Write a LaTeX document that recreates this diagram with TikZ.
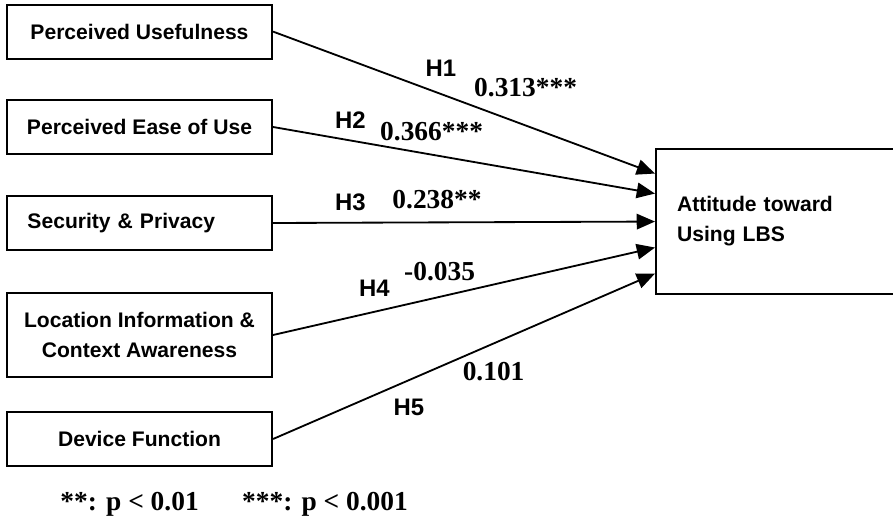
\documentclass[tikz,border=0pt]{standalone}
\usepackage{fontspec}
\setmainfont{Liberation Serif}
\setsansfont{Liberation Sans}
\usetikzlibrary{arrows.meta,positioning}
\tikzset{
  box/.style={draw=black,fill=white,line width=1.5pt,minimum width=6.625cm,minimum height=1.35cm,inner sep=0pt,align=center,font=\sffamily\bfseries\fontsize{15}{21.3}\selectfont},
  arr/.style={-{Triangle[length=13pt,width=11pt]},line width=1.3pt,draw=black},
  hyp/.style={anchor=base,inner sep=0pt,font=\sffamily\bfseries\fontsize{17}{20}\selectfont},
  coef/.style={anchor=base,inner sep=0pt,font=\rmfamily\bfseries\fontsize{19.5}{23}\selectfont},
}
\begin{document}
\begin{tikzpicture}
  \useasboundingbox (0,0) rectangle (22.325,-13.225);
  % antecedents
  \node[box] (pu) at (3.4875,-0.79) {Perceived Usefulness};
  \node[box] (peou) at (3.4875,-3.175) {Perceived Ease of Use};
  \node[box,text width=5.6cm,align=left] (sp) at (3.4875,-5.575) {Security \& Privacy};
  \node[box,minimum height=2.1cm] (lica) at (3.4875,-8.375) {Location Information \&\\Context Awareness};
  \node[box] (df) at (3.4875,-10.975) {Device Function};
  % outcome, open on the right side
  \node[box,anchor=north west,minimum width=6cm,text width=5cm,align=left,inner xsep=0.525cm,minimum height=3.625cm] (att) at (16.375,-3.7) {\raisebox{1.5pt}{Attitude toward}\\\raisebox{1.5pt}{Using LBS}};
  % paths
  \draw[arr] (pu.east) -- ([yshift=1.2cm]att.west);
  \draw[arr] (peou.east) -- ([yshift=0.7cm]att.west);
  \draw[arr] (sp.east) -- ([yshift=0cm]att.west);
  \draw[arr] (lica.east) -- ([yshift=-0.65cm]att.west);
  \draw[arr] (df.east) -- ([yshift=-1.3cm]att.west);
  % hypotheses and path coefficients
  \node[hyp] (h1) at (11.025,-1.925) {H1};
  \node[coef] (c1) at (13.14,-2.42) {0.313***};
  \node[hyp] (h2) at (8.76,-3.2) {H2};
  \node[coef] (c2) at (10.79,-3.5) {0.366***};
  \node[hyp] (h3) at (8.76,-5.25) {H3};
  \node[coef] (c3) at (10.925,-5.2) {0.238**};
  \node[hyp] (h4) at (9.36,-7.42) {H4};
  \node[coef] (c4) at (10.99,-7.02) {-0.035};
  \node[coef] (c5) at (12.34,-9.5) {0.101};
  \node[hyp] (h5) at (10.225,-10.375) {H5};
  % significance levels
  \node[coef] (sig2) at (3.24,-12.75) {**: p < 0.01};
  \node[coef] (sig3) at (8.125,-12.75) {***: p < 0.001};
\end{tikzpicture}
\end{document}
